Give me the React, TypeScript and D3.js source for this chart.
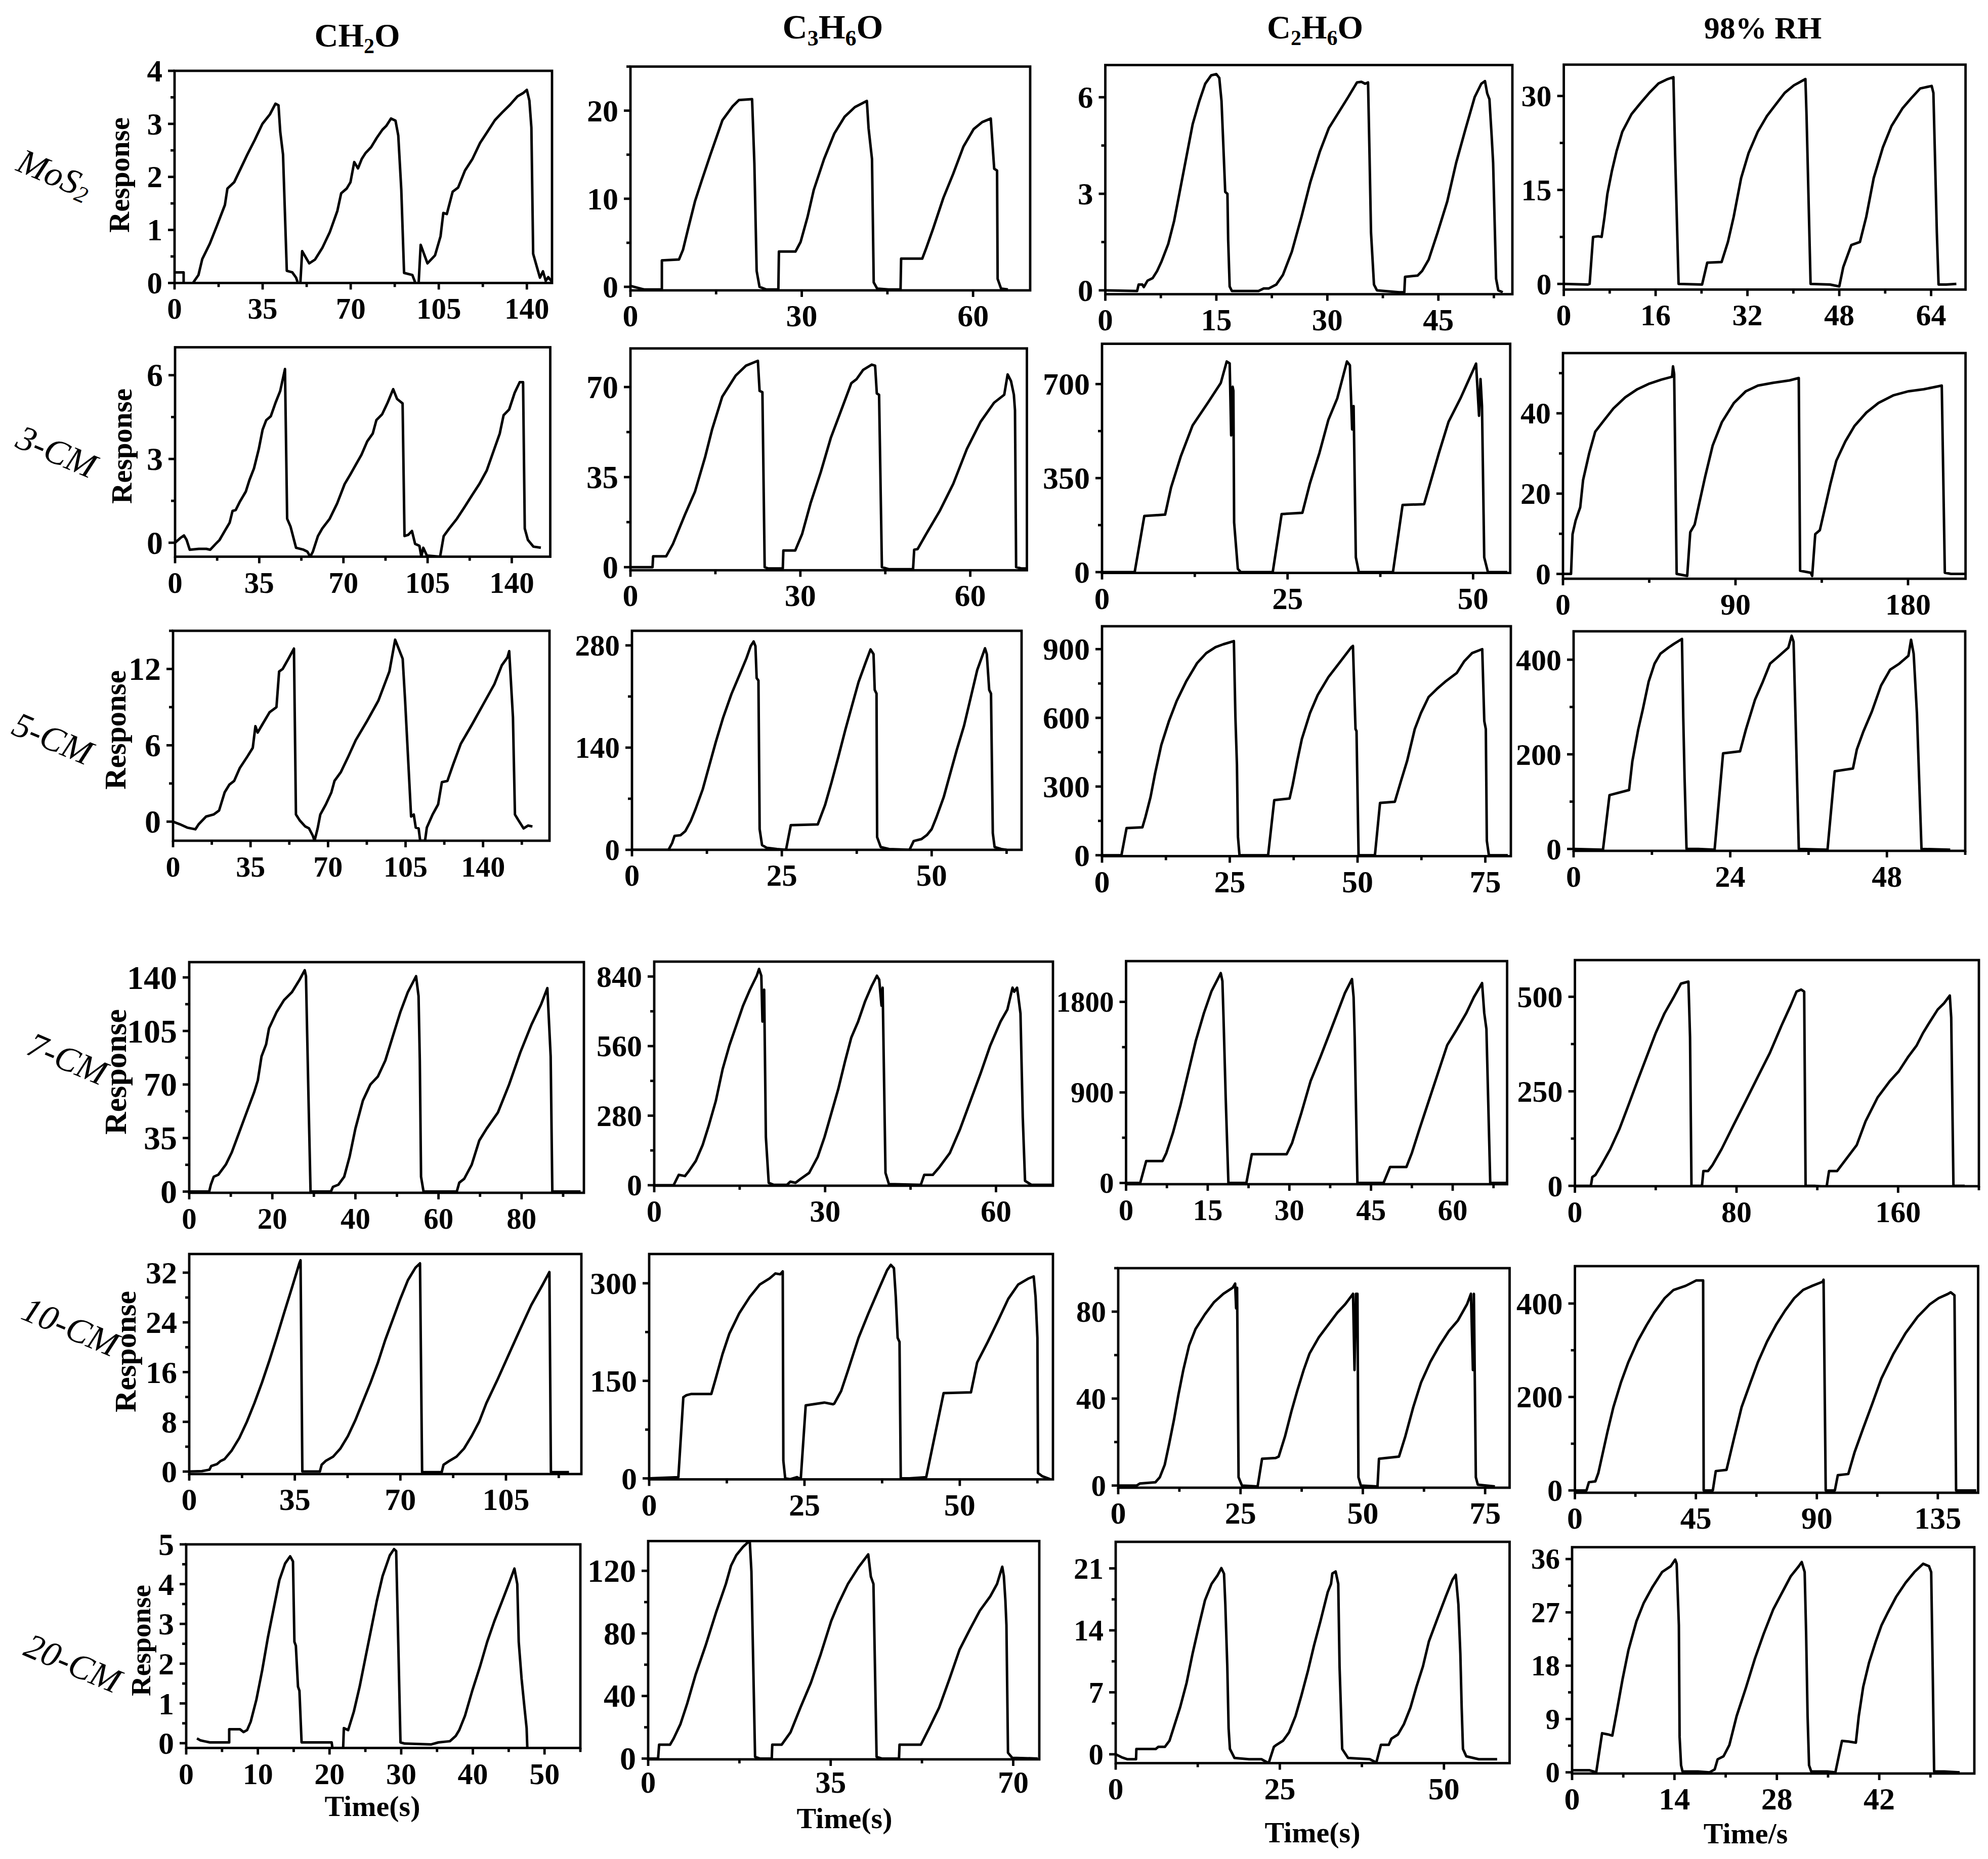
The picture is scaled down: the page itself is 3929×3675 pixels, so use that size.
import React, { useEffect } from 'react';
import * as d3 from 'd3';

type Pt = [number, number];
const FONT = "'Liberation Serif', 'Times New Roman', serif";

// ---------------- row / column names ----------------
const rowNames = ['MoS', '3-CM', '5-CM', '7-CM', '10-CM', '20-CM'];
const axisTitle = 'Response';
const timeLabels = ['Time(s)', 'Time(s)', 'Time(s)', 'Time/s'];

// ---------------- data: MoS2 ----------------
const mos2Fa: Pt[] = [[0,0.2],[3.6,0.2],[3.6,0],[7.3,0],[9.5,0.15],[11,0.45],[14,0.74],[17,1.1],[20,1.47],[21,1.78],[23.7,1.9],[25.9,2.12],[28.9,2.42],[31.9,2.7],[34.9,3.0],[37.9,3.18],[40.1,3.38],[41.3,3.35],[42,2.85],[43.1,2.42],[44.6,0.23],[46.8,0.2],[48.3,0.1],[49,0],[50,0],[50.7,0.6],[53.5,0.37],[55.8,0.44],[58.7,0.66],[61.7,0.96],[64.7,1.36],[66.2,1.69],[68.4,1.78],[69.9,1.9],[71.4,2.28],[72.9,2.16],[74.4,2.34],[75.9,2.45],[78.1,2.56],[80.4,2.74],[82.6,2.89],[84.1,2.96],[86,3.1],[87.8,3.06],[88.9,2.78],[90.1,1.76],[91.2,0.19],[94.5,0.15],[95.7,0],[97,0],[97.8,0.72],[100.5,0.37],[103.5,0.52],[105.7,0.88],[106.8,1.32],[108.2,1.3],[110.5,1.72],[112.7,1.8],[115.4,2.12],[118.4,2.34],[121.4,2.64],[124.3,2.85],[127.3,3.07],[130.3,3.22],[133.3,3.36],[136.3,3.52],[138.5,3.58],[140,3.64],[141,3.44],[141.8,2.93],[142.5,0.55],[144,0.3],[145.2,0.1],[146.4,0.22],[147.5,0.04],[148.5,0.11],[150,0.02]];
const mos2Ac: Pt[] = [[0,0.1],[2.4,-0.3],[5.5,-0.3],[5.5,3.0],[8.5,3.1],[9.2,4.2],[10.1,6.6],[11.3,9.7],[12.5,12.1],[14,15],[16.1,18.9],[17.9,20.5],[19,21.2],[21.3,21.3],[21.7,14],[22.1,1.8],[22.6,0],[23.8,-0.3],[25.9,-0.3],[26,4.0],[28.9,4.0],[29.8,5.1],[31,7.9],[32.1,11],[33.9,14.5],[35.7,17.4],[37.5,19.3],[39.3,20.4],[41.4,21.1],[41.7,18],[42.3,14.5],[42.6,0.5],[43.2,-0.2],[45.2,-0.3],[47.3,-0.3],[47.4,3.2],[51.1,3.2],[51.8,4.4],[53,6.6],[54.8,10.1],[56.5,12.8],[58.3,15.9],[60.1,17.9],[61.6,18.7],[63.1,19.1],[63.7,13.4],[64.2,13.2],[64.3,0.9],[64.9,-0.2],[66.1,-0.3]];
const mos2Et: Pt[] = [[0,0],[4.3,-0.02],[4.5,0.18],[5.0,0.18],[5.2,0.1],[5.7,0.3],[6.4,0.38],[7.0,0.6],[7.6,0.9],[8.5,1.44],[9.3,2.16],[10.1,3.12],[11.0,4.2],[11.8,5.16],[12.7,5.88],[13.5,6.42],[14.3,6.68],[15.0,6.72],[15.4,6.6],[15.7,5.88],[16.0,4.2],[16.2,3.06],[16.5,3.0],[16.6,1.56],[16.8,0.12],[17.1,-0.02],[20.7,-0.02],[21.4,0.06],[22.1,0.06],[23.1,0.18],[24.0,0.48],[25.2,1.2],[26.5,2.28],[27.7,3.36],[29.0,4.32],[30.2,5.04],[31.5,5.52],[32.8,6.0],[34.0,6.46],[34.6,6.48],[35.1,6.42],[35.5,6.46],[35.7,4.2],[35.9,1.8],[36.3,0.18],[36.7,0],[39.7,-0.06],[40.4,-0.06],[40.5,0.42],[42.2,0.46],[42.8,0.6],[43.7,0.96],[44.9,1.8],[46.2,2.76],[47.4,3.96],[48.7,5.04],[49.9,6.0],[50.8,6.42],[51.3,6.5],[51.6,6.12],[51.9,5.94],[52.2,4.8],[52.4,3.96],[52.8,0.36],[53.1,0],[53.7,-0.06]];
const mos2Rh: Pt[] = [[0,0],[4.2,-0.1],[4.5,0],[5.1,7.5],[6.0,7.6],[6.6,7.5],[7.1,10.7],[7.6,14.4],[8.4,18.1],[9.2,21.2],[10.2,24.3],[11.8,27.1],[13.4,28.9],[14.9,30.5],[16.5,32],[18.1,32.7],[19.1,33],[19.4,20.6],[20.0,0],[24.1,-0.1],[25.0,3.4],[27.5,3.5],[28.6,6.7],[29.6,10.7],[30.9,16.9],[32.2,20.9],[33.8,24.3],[35.4,26.8],[36.9,28.6],[38.5,30.5],[40.1,31.7],[42.1,32.7],[42.3,26.8],[43.0,0],[46.4,-0.1],[48.0,-0.4],[48.7,2.7],[50.1,6.2],[51.6,6.7],[52.7,10.7],[54.0,16.9],[55.6,21.8],[57.1,25.2],[59.0,28],[60.5,29.6],[62.1,31.2],[64.1,31.6],[64.4,30.5],[65.0,8.2],[65.3,-0.1],[66.6,-0.1],[68.4,0]];

// ---------------- data: 3-CM ----------------
const cm3Fa: Pt[] = [[0,0],[2.2,0.17],[3.7,0.26],[4.8,0.1],[6.1,-0.25],[9.9,-0.22],[13,-0.22],[14.6,-0.25],[16.9,-0.04],[18.5,0.1],[20.8,0.44],[22.7,0.72],[23.9,1.14],[25.2,1.17],[27,1.48],[29.4,1.83],[30.9,2.24],[32.8,2.66],[34.8,3.35],[36.4,4.05],[37.9,4.39],[39.8,4.53],[41.8,5.02],[43.7,5.43],[45.7,6.22],[46.6,0.86],[48,0.58],[50.3,-0.18],[53.4,-0.25],[55,-0.32],[56.2,-0.5],[57.3,-0.32],[59.4,0.24],[61.2,0.51],[64.3,0.86],[67.4,1.41],[70.5,2.1],[72.9,2.45],[75.2,2.8],[77.5,3.15],[79.9,3.63],[82.2,3.91],[83.7,4.39],[86.1,4.6],[88.4,5.02],[90.7,5.5],[92.3,5.15],[94.6,4.99],[95.4,0.24],[96.9,0.28],[98.5,0.42],[99.8,-0.04],[101.6,-0.11],[102.4,-0.5],[103.2,-0.18],[104.7,-0.46],[110.2,-0.5],[111.7,0.24],[114,0.51],[117.2,0.86],[120.3,1.27],[123.4,1.69],[126.5,2.1],[129.6,2.59],[132.7,3.35],[135,3.91],[136.6,4.57],[138.9,4.77],[141.2,5.37],[143.3,5.75],[144.7,5.75],[145.4,0.51],[146.7,0.1],[149,-0.14],[152.1,-0.18]];
const cm3Ac: Pt[] = [[0,0],[3.9,0],[4.0,4.2],[6.3,4.2],[7.5,9],[9.6,20.3],[11.4,29.4],[13.2,42.9],[14.4,53.4],[16.2,66.2],[18.6,74.5],[20.4,78.3],[22.5,80.2],[22.8,68.5],[23.3,68],[23.7,0],[24.3,-0.5],[26.9,-0.5],[27,6.5],[29.1,6.5],[30.3,12.8],[31.8,24.8],[33.6,36.9],[35.4,50.4],[37.2,60.9],[39,71.5],[39.9,73],[41.1,76.7],[42.6,78.7],[43.2,78.3],[43.5,67.5],[43.9,67],[44.4,0],[45.6,-0.8],[49.9,-0.8],[50.1,6.8],[50.7,7],[52.2,12.8],[54.6,21.8],[57,32.4],[59.4,45.9],[61.8,56.4],[64.2,63.9],[66,67],[66.6,74.9],[67.2,72.3],[67.7,67],[67.9,60.9],[68.1,0],[69,-0.5],[69.9,-0.5]];
const cm3Et: Pt[] = [[0,0],[4.4,0],[5.7,209],[8.5,214],[9.3,315],[10.6,430],[12.2,546],[14.3,632],[16.0,704],[16.8,784],[17.2,777],[17.4,509],[17.6,690],[17.7,675],[17.8,185],[18.3,12],[18.7,0],[23.0,0],[24.2,216],[27.0,221],[28.0,329],[29.3,444],[30.5,567],[31.7,647],[33.0,784],[33.4,770],[33.7,531],[33.9,618],[34.2,55],[34.6,0],[39.2,0],[40.5,250],[43.4,253],[44.2,329],[45.4,444],[46.7,560],[48.3,647],[50.4,776],[50.8,582],[51.0,719],[51.2,618],[51.5,55],[52.0,0],[54.6,0]];
const cm3Rh: Pt[] = [[0,0],[4.2,0],[5.0,9.9],[6.6,13.3],[9.0,16.6],[10.5,23.4],[13.7,30.1],[16.8,35.4],[21.5,38.3],[26.3,41.2],[32.5,44],[38.8,46],[45.1,47.4],[51.4,48.4],[56.9,49.1],[57.4,51.7],[58.0,49.8],[59.3,0],[64.8,-0.5],[66.4,10.4],[68.7,12.3],[71.1,17.6],[74.2,24.3],[78.1,32],[82.9,37.8],[89.2,42.6],[95.4,45.5],[101.7,46.9],[109.6,47.6],[118.2,48.2],[123.0,48.8],[123.7,0.8],[129.2,0.3],[130.0,-0.5],[131.6,9.9],[134.0,10.9],[136.3,15.7],[139.5,22.4],[142.6,28.2],[147.3,33],[152.0,36.8],[158.3,40.2],[164.6,42.6],[172.5,44.5],[180.3,45.5],[188.2,46],[197.6,46.9],[199.2,0.3],[202.4,0],[210,0]];

// ---------------- data: 5-CM ----------------
const cm5Fa: Pt[] = [[0,0],[3.0,-0.2],[6.4,-0.47],[10.1,-0.6],[11.5,-0.22],[14.9,0.4],[18.3,0.56],[20.8,0.88],[23.3,2.3],[25.4,2.9],[27.6,3.2],[30.1,4.2],[33.5,5.1],[36.0,5.8],[37.2,7.5],[38.2,7.0],[40.2,7.6],[43.6,8.6],[46.7,9.0],[47.9,11.8],[49.5,12],[52.1,12.8],[54.6,13.6],[55.5,0.56],[57.2,0.1],[59.7,-0.38],[61.4,-0.53],[63.1,-1.1],[63.9,-1.5],[65.3,-0.53],[66.5,0.56],[69.0,1.35],[71.5,2.3],[72.9,3.2],[75.8,3.9],[79.1,5.1],[82.5,6.4],[87.6,7.9],[92.7,9.5],[97.7,11.8],[100.3,14.3],[103.7,12.8],[104.8,9.5],[107.5,0.4],[108.7,0.56],[109.6,-0.47],[110.9,-0.53],[111.6,-1.5],[113.8,-1.5],[114.6,-0.47],[117.2,0.56],[119.7,1.35],[121.4,3.1],[123.9,3.2],[126.5,4.5],[129.9,6.1],[134.9,7.6],[140.0,9.2],[145.1,10.8],[148.5,12.3],[151.0,12.9],[151.8,13.4],[153.5,8.2],[154.4,0.56],[156.0,0.1],[158.3,-0.53],[160.3,-0.31],[162.3,-0.38]];
const cm5Ac: Pt[] = [[0,0],[6.1,0],[6.7,9.3],[7.1,19],[8.1,20],[8.9,25.6],[9.8,39.2],[10.6,55.6],[11.8,82.8],[12.9,115.5],[14.0,148.1],[15.2,180.8],[16.6,213.5],[18.0,240.8],[19.1,262.5],[19.8,278.9],[20.3,285.4],[20.6,278.9],[20.8,235.3],[21.1,232],[21.3,28.3],[21.7,6.5],[22.5,2.7],[24.2,1.1],[25.7,0],[26.5,33.8],[31.0,34.9],[32.2,61],[33.3,92.6],[34.4,126.4],[35.6,164.5],[36.7,197.2],[37.8,229.8],[39.0,257],[39.8,274.5],[40.3,268],[40.5,219],[40.8,214],[40.9,17.4],[41.5,3.8],[42.9,1.1],[46.3,0],[47.0,12],[48.3,14.7],[49.2,20.2],[50.0,28.3],[50.8,44.7],[52.0,71.9],[53.1,104.6],[54.2,137.2],[55.4,169.9],[56.5,208],[57.6,246.2],[58.9,276],[59.2,268],[59.6,219],[59.9,214],[60.2,22.9],[60.5,3.8],[61.6,1.1],[62.5,0]];
const cm5Et: Pt[] = [[0,0],[3.8,0],[4.8,118.6],[7.9,122],[8.5,167.5],[9.5,254.7],[10.4,359.3],[11.6,481.4],[13.1,586.1],[14.6,673.3],[16.5,760.5],[18.6,839],[20.4,882.6],[22.2,908.8],[23.7,921],[25.8,935],[26.1,603.5],[26.4,394.2],[26.6,80.2],[26.9,0],[32.5,0],[33.7,240.7],[36.7,247.7],[37.3,307],[38.2,411.7],[39.1,507.6],[40.7,621],[42.2,699.5],[44.3,778],[46.7,847.8],[48.8,908.8],[49.1,914],[49.6,551.2],[49.8,542],[50.2,0],[53.4,0],[54.4,228.5],[57.3,233.7],[58.5,324.4],[59.7,411.7],[61.2,551.2],[62.4,621],[63.9,690.8],[65.5,725.6],[67.3,760.5],[69.4,795.4],[70.9,847.8],[72.4,882.6],[74.4,900],[74.8,586],[75.1,551.2],[75.3,62.8],[75.7,0],[79.4,0]];
const cm5Rh: Pt[] = [[0,0],[4.5,-1.7],[5.5,113.7],[8.5,124.6],[9.0,185.3],[9.9,252.6],[10.6,294.7],[11.5,353.7],[12.4,391.6],[13.3,412.6],[14.5,425.3],[15.4,433.7],[16.6,443.8],[16.8,277.9],[17.0,151.6],[17.3,0],[19.1,0],[21.6,-1.7],[22.9,202.1],[25.5,206.3],[26.4,252.6],[27.8,315.8],[29.0,353.7],[30.1,391.6],[31.5,408.4],[32.9,425.3],[33.4,450.5],[33.7,437.9],[34.0,277.9],[34.5,0],[38.9,-1.7],[40.0,164.2],[42.8,170.1],[43.4,210.5],[44.4,248.4],[45.7,290.5],[47.1,345.3],[48.5,378.9],[49.9,391.6],[51.3,408.4],[51.7,442.1],[52.1,412.6],[52.6,286.3],[53.3,0],[57.7,-1.7]];

// ---------------- data: 7-CM ----------------
const cm7Fa: Pt[] = [[0,0],[4.8,0],[5.2,4.5],[5.9,9.7],[7.0,11],[7.7,13.6],[8.8,17.6],[10.2,25.4],[12.0,38.5],[13.8,51.7],[15.6,64.8],[16.5,72.6],[17.4,88.4],[18.5,96.2],[19.2,106.7],[21.0,117.2],[22.8,125.1],[24.7,130.3],[26.5,138.2],[27.8,144.7],[28.1,140.8],[28.7,62.1],[29.2,0],[34.1,0],[34.6,3.1],[35.9,4.5],[37.3,9.7],[38.6,22.8],[40.0,41.2],[41.8,59.5],[43.6,70],[45.4,75.2],[47.2,85.7],[49.0,101.5],[50.8,117.2],[52.6,130.3],[54.6,140.8],[55.2,127.7],[55.5,85.7],[55.8,9.7],[56.4,0],[64.4,0],[65.0,5.8],[66.2,8.4],[68.0,17.6],[69.8,33.3],[71.6,41.2],[74.3,51.7],[77.0,70],[79.7,91],[82.4,109.3],[84.7,122.4],[86.2,133],[87.0,88.4],[87.4,0],[89.7,0],[94.2,0]];
const cm7Ac: Pt[] = [[0,0],[3.4,0],[4.3,41.7],[5.4,36.9],[6.1,57.7],[7.3,97.8],[8.5,161.9],[9.6,242],[10.8,338.2],[12.0,466.5],[13.2,562.7],[14.4,642.8],[15.6,723],[16.8,787],[18.0,843.2],[18.4,870.5],[18.8,843],[19.0,658.9],[19.3,787],[19.6,194],[20.1,9.6],[21.0,1.6],[23.3,1.6],[23.9,14.4],[24.8,9.6],[25.7,25.6],[27.2,49.7],[28.7,113.8],[29.9,194],[31.1,290.2],[32.3,386.3],[33.5,498.6],[34.6,594.8],[35.8,658.9],[37.0,739],[38.2,803.1],[39.1,843.2],[39.5,827],[39.9,723],[40.1,795],[40.6,49.7],[41.2,4.8],[46.8,1.6],[47.4,41.7],[48.9,41.7],[50.1,73.7],[51.9,129.9],[53.7,226.1],[55.5,338.2],[57.3,450.5],[59.0,562.7],[60.8,658.9],[62.0,707],[62.9,795.1],[63.2,779],[63.7,795],[63.9,763.1],[64.3,691],[64.7,274.1],[65.1,17.6],[66.2,1.6],[69.8,1.6]];
const cm7Et: Pt[] = [[0,0],[2.6,0],[3.7,218.5],[6.7,218.5],[7.4,298],[8.6,496.6],[10.0,774.7],[11.4,1092.6],[12.8,1410.4],[14.3,1688.5],[15.7,1907],[17.4,2085.8],[17.7,2006],[17.9,1648.8],[18.3,854.2],[18.8,0],[22.1,0],[23.1,286],[29.5,286],[30.5,397.3],[32.2,695.3],[33.9,1013.1],[35.7,1251.5],[37.4,1489.9],[38.8,1688.5],[40.2,1887.2],[41.5,2026.2],[41.8,1847],[42.0,1450.1],[42.5,0],[47.3,0],[48.5,158.9],[51.5,158.9],[52.5,298],[53.9,536.4],[55.6,814.5],[57.3,1092.6],[59.0,1370.7],[60.8,1529.6],[62.5,1688.5],[63.9,1847.4],[65.4,1986.5],[65.8,1688.5],[66.2,1529.6],[66.9,0],[69.9,0]];
const cm7Rh: Pt[] = [[0,0],[7.9,0],[8.6,23.2],[10.1,28.5],[13.1,54.9],[17.5,97],[22.0,149.8],[26.5,213.1],[30.9,276.4],[35.4,339.7],[39.9,403],[44.3,455.7],[48.8,497.9],[52.5,534.8],[56.2,540.1],[57.0,392.4],[57.7,0],[62.9,0],[63.6,39],[65.9,39],[68.1,54.9],[72.6,97],[78.5,160.3],[84.5,223.6],[90.4,286.9],[96.4,350.2],[102.3,424],[106.8,476.8],[109.7,513.7],[112.0,519],[113.5,513.7],[114.2,0],[118.7,0],[124.6,-3],[125.8,39],[129.8,39],[135.0,75.9],[139.5,107.6],[143.9,170.9],[149.9,234.2],[155.8,276.4],[160.3,302.7],[164.8,339.7],[169.2,371.3],[172.2,403],[175.2,429.3],[179.6,466.2],[182.6,482.1],[185.6,503.2],[186.3,445.1],[187.4,0],[193.0,0]];

// ---------------- data: 10-CM ----------------
const cm10Fa: Pt[] = [[0,0],[4.2,0.07],[6.7,0.3],[7.3,0.9],[9.2,1.2],[10.4,1.7],[11.7,2.0],[14.1,3.4],[16.6,5.4],[19.1,8],[21.6,11],[24.1,14.3],[26.6,17.9],[29.0,21.6],[31.5,25.6],[34.0,29.5],[36.5,33.5],[36.9,34],[37.5,0],[43.3,0],[43.9,1.1],[45.2,1.7],[47.7,2.4],[50.1,3.7],[52.6,5.7],[55.1,8.3],[57.6,11.3],[60.1,14.3],[62.6,17.6],[65.0,21.2],[67.5,24.5],[70.0,27.8],[72.5,30.8],[75.0,32.8],[76.5,33.5],[77.2,-0.1],[83.7,-0.1],[84.3,1.1],[86.2,1.7],[88.6,2.4],[91.1,3.7],[93.6,5.7],[96.1,8],[98.5,11],[102.3,14.9],[106.0,18.9],[109.7,22.9],[113.4,26.8],[117.2,30.1],[119.4,32.1],[119.9,-0.1],[125.9,-0.1]];
const cm10Ac: Pt[] = [[0,0],[4.7,1.9],[5.5,124.8],[6.0,127.9],[6.8,129.8],[10.0,129.8],[10.7,153.1],[11.8,190.9],[12.9,222.4],[14.5,253.9],[16.2,279.1],[17.8,298],[19.4,307.5],[20.3,315],[21.1,313.8],[21.5,318.2],[21.6,27.1],[21.9,0],[22.7,-1.3],[23.8,1.9],[24.4,-1.3],[25.2,112.2],[28.2,116.6],[29.6,114],[29.8,115],[30.9,134.2],[32.0,165.7],[33.7,216.1],[35.3,253.9],[37.0,291.7],[38.3,320.1],[38.9,328.3],[39.4,323.2],[39.7,279.1],[40.0,216.1],[40.3,209.8],[40.5,0],[41.9,0],[44.6,1.9],[47.4,131.1],[51.8,132.3],[52.8,178.3],[54.5,209.8],[56.1,241.3],[57.8,276],[59.4,298],[61.1,307.5],[61.9,310.6],[62.2,279.1],[62.5,216.1],[62.6,8.2],[63.3,3.2],[64.6,-1.3]];
const cm10Et: Pt[] = [[0,0],[3.8,0],[4.4,0.9],[7.6,1.5],[8.5,3.8],[9.5,9.5],[10.4,19],[11.4,30.3],[12.3,41.7],[13.3,53.1],[14.5,64.5],[15.8,72],[17.7,78.7],[19.6,84.4],[21.5,88.2],[23.4,91],[23.9,92.9],[24.1,81.5],[24.3,91],[24.6,3.8],[25.3,0],[28.5,-0.4],[29.4,12.3],[32.2,12.7],[32.8,13.3],[34.1,22.7],[35.4,34.1],[36.6,43.6],[37.9,53.1],[39.1,60.7],[41.0,68.2],[42.9,73.9],[44.8,79.6],[46.4,83.4],[48.0,88.2],[48.3,53.1],[48.6,88.2],[48.9,88.2],[49.1,3.8],[49.6,0],[53.0,-0.4],[53.3,12.3],[57.4,13.3],[58.7,22.7],[60.3,36],[61.9,47.4],[63.8,56.9],[65.7,64.5],[67.6,71.1],[69.4,75.8],[71.3,83.4],[72.1,88.2],[72.5,53.1],[72.7,88.2],[73.1,3.8],[73.5,0.4],[77.0,-0.4]];
const cm10Rh: Pt[] = [[0,0],[4.3,0],[5.2,17.6],[7.6,19.4],[8.7,37],[10.4,81.1],[12.1,125.1],[14.3,178],[17.1,230.8],[19.9,274.9],[23.3,319],[26.7,354.2],[29.5,380.6],[33.4,411.5],[36.7,429.1],[41.2,437.9],[45.1,449.3],[47.7,449.3],[47.9,0],[51.3,0],[52.4,41.4],[56.4,44.1],[59.2,111.9],[62.0,178],[65.3,230.8],[68.1,274.9],[71.5,319],[74.8,354.2],[78.2,385],[81.6,411.5],[84.9,429.1],[88.3,437.9],[92.2,446.7],[92.5,451],[93.3,0],[96.7,0],[97.8,32.6],[101.7,35.2],[104.0,81.1],[107.3,133.9],[110.7,186.8],[114.0,239.6],[118.5,292.5],[123.0,336.6],[127.5,371.8],[132.0,398.2],[135.3,411.5],[138.7,420.3],[139.8,424],[141.2,417.6],[141.8,0],[149.3,0]];

// ---------------- data: 20-CM ----------------
const cm20Fa: Pt[] = [[1.5,0.12],[2.0,0.07],[2.5,0.05],[3.3,0.02],[6.0,0.02],[6.0,0.35],[7.5,0.35],[8.0,0.28],[8.5,0.33],[9.0,0.54],[9.8,1.1],[10.6,1.83],[11.4,2.66],[12.2,3.38],[13.0,4.1],[13.8,4.52],[14.5,4.7],[14.9,4.57],[15.1,2.55],[15.3,2.45],[15.6,1.42],[15.8,1.32],[16.1,0.02],[20.3,0.02],[20.4,-0.12],[21.9,-0.12],[22.0,0.38],[22.6,0.33],[23.4,0.8],[24.2,1.42],[25.0,2.14],[25.8,2.86],[26.6,3.58],[27.4,4.2],[28.4,4.72],[29.0,4.88],[29.3,4.83],[29.6,2.45],[29.9,0.02],[30.5,-0.01],[34.2,-0.03],[35.2,0.02],[36.8,0.05],[37.6,0.18],[38.1,0.33],[38.9,0.69],[39.9,1.31],[41.0,1.93],[42.0,2.55],[43.0,3.07],[44.1,3.58],[45.1,4.05],[45.8,4.39],[46.2,4.0],[46.4,2.55],[46.8,1.62],[47.2,0.9],[47.5,0.38],[47.6,-0.12]];
const cm20Ac: Pt[] = [[0,0],[1.9,0],[2.1,8.9],[4.2,8.9],[4.9,12.9],[6.2,22.1],[7.5,35.3],[9.1,53.7],[11.0,72.1],[13.0,93.2],[14.9,111.6],[15.9,123.4],[16.9,130],[18.2,135.3],[19.2,138.4],[19.5,137.9],[19.8,119.5],[20.0,85],[20.5,1.1],[21.4,0],[23.7,0],[23.8,8.9],[25.6,8.9],[27.3,16.8],[29.2,32.6],[31.2,48.4],[33.1,66.8],[35.1,87.9],[36.4,98.4],[38.3,111.6],[40.3,122.1],[42.2,130.5],[42.7,116.3],[43.2,111.6],[43.8,1.1],[44.8,0],[48.1,0],[48.2,8.9],[52.3,8.9],[53.9,19.5],[55.8,32.6],[57.8,51.1],[59.7,69.5],[61.7,82.6],[63.6,94.5],[65.6,103.7],[66.9,111.6],[67.9,122.6],[68.2,116.8],[68.5,101],[68.7,85.3],[69.0,3.7],[69.8,0.5],[74.7,0]];
const cm20Et: Pt[] = [[0,0],[0.9,-0.33],[1.8,-0.56],[3.1,-0.56],[3.15,0.6],[6.1,0.6],[6.5,0.84],[7.5,0.84],[8.2,1.54],[8.9,3.17],[9.8,5.27],[10.8,8.07],[11.7,11.33],[12.7,14.59],[13.6,17.39],[14.6,19.25],[15.5,20.2],[16.1,21.03],[16.5,20.4],[16.7,16.92],[17.0,9.93],[17.2,2.94],[17.4,0.6],[18.1,-0.42],[20.3,-0.56],[22.2,-0.56],[23.3,-1.0],[24.1,0.84],[24.5,1.07],[25.5,1.54],[26.4,2.47],[27.4,4.34],[28.3,6.67],[29.3,9.47],[30.2,12.26],[31.2,15.06],[32.3,18.32],[32.8,19.25],[33.0,20.42],[33.5,20.65],[33.9,19.25],[34.1,9.93],[34.5,0.6],[35.4,-0.42],[38.7,-0.56],[39.7,-0.93],[40.4,1.07],[41.6,1.07],[42.0,1.77],[43.0,2.24],[43.9,3.4],[44.9,5.27],[45.8,7.6],[46.8,9.93],[47.7,12.73],[49.1,15.52],[50.3,17.86],[51.3,19.72],[51.8,20.28],[52.2,16.92],[52.5,11.33],[52.7,5.27],[52.9,0.6],[53.4,-0.23],[55.3,-0.56],[58.1,-0.56]];
const cm20Rh: Pt[] = [[0,0.35],[2.4,0.35],[3.3,0],[4.1,6.6],[4.9,6.4],[5.5,6.2],[6.1,10.2],[6.9,15.7],[7.7,20.6],[8.8,25.5],[9.8,28.6],[11.0,31.3],[12.3,33.8],[13.5,34.8],[14.1,35.9],[14.3,35.2],[14.6,24.8],[14.7,6],[14.9,1.2],[15.1,0.14],[17.2,0.14],[18.8,0],[19.5,0.49],[19.9,2.2],[20.7,2.7],[21.5,4.6],[22.5,9.5],[23.8,14.4],[25.0,19.2],[26.2,23.4],[27.5,27.5],[28.7,30.3],[29.9,33.1],[31.0,34.8],[31.4,35.5],[31.8,33.8],[32.0,23.4],[32.2,9.5],[32.4,1.2],[32.7,0.14],[34.9,0.14],[36.0,0],[36.9,5.3],[37.8,5.2],[38.8,5],[39.2,9.5],[39.8,14.4],[40.6,18.5],[41.5,22],[42.3,24.8],[43.1,26.8],[44.3,29.6],[45.6,32],[46.8,33.8],[48.0,35.2],[48.8,34.8],[49.1,33.8],[49.3,17.8],[49.5,0.14],[50.9,0.14],[53.0,0]];

// ---------------- tick values ----------------
const tk35 = [0, 35, 70, 105, 140];
const tk30 = [0, 30, 60];
const tk25 = [0, 25, 50];
const tk25b = [0, 25, 50, 75];
const mos2FaY = [0, 1, 2, 3, 4];
const mos2AcY = [0, 10, 20];
const mos2EtX = [0, 15, 30, 45];
const mos2EtY = [0, 3, 6];
const mos2RhX = [0, 16, 32, 48, 64];
const mos2RhY = [0, 15, 30];
const cm3FaY = [0, 3, 6];
const cm3AcY = [0, 35, 70];
const cm3EtY = [0, 350, 700];
const cm3RhX = [0, 90, 180];
const cm3RhY = [0, 20, 40];
const cm5FaY = [0, 6, 12];
const cm5AcY = [0, 140, 280];
const cm5EtY = [0, 300, 600, 900];
const cm5RhX = [0, 24, 48];
const cm5RhY = [0, 200, 400];
const cm7FaX = [0, 20, 40, 60, 80];
const cm7FaY = [0, 35, 70, 105, 140];
const cm7AcY = [0, 280, 560, 840];
const cm7EtX = [0, 15, 30, 45, 60];
const cm7EtY = [0, 900, 1800];
const cm7RhX = [0, 80, 160];
const cm7RhY = [0, 250, 500];
const cm10FaX = [0, 35, 70, 105];
const cm10FaY = [0, 8, 16, 24, 32];
const cm10AcY = [0, 150, 300];
const cm10EtY = [0, 40, 80];
const cm10RhX = [0, 45, 90, 135];
const cm10RhY = [0, 200, 400];
const cm20FaX = [0, 10, 20, 30, 40, 50];
const cm20FaY = [0, 1, 2, 3, 4, 5];
const cm20AcX = [0, 35, 70];
const cm20AcY = [0, 40, 80, 120];
const cm20EtY = [0, 7, 14, 21];
const cm20RhX = [0, 14, 28, 42];
const cm20RhY = [0, 9, 18, 27, 36];

interface Panel {
  data: Pt[]; xt: number[]; yt: number[];
  xd: [number, number]; yd: [number, number];
  box: [number, number, number, number]; fx: number; fy: number; xo?: number;
}

// layout (box = left, top, right, bottom in px)
const panels: Panel[] = [
  { data: mos2Fa, xt: tk35, yt: mos2FaY, xd: [0, 150], yd: [0, 4], box: [345, 140, 1091, 559.4], fx: 59, fy: 61 },
  { data: mos2Ac, xt: tk30, yt: mos2AcY, xd: [0, 70], yd: [-0.4, 25], box: [1246, 131.6, 2036, 574], fx: 62, fy: 62 },
  { data: mos2Et, xt: mos2EtX, yt: mos2EtY, xd: [0, 55], yd: [-0.12, 7], box: [2184.5, 128.6, 2989, 581.6], fx: 61, fy: 61 },
  { data: mos2Rh, xt: mos2RhX, yt: mos2RhY, xd: [0, 70], yd: [-0.9, 35], box: [3090.6, 127.8, 3884.6, 572.4], fx: 60, fy: 60 },

  { data: cm3Fa, xt: tk35, yt: cm3FaY, xd: [0, 156], yd: [-0.5, 7], box: [346, 686.5, 1087.5, 1100.5], fx: 59, fy: 64 },
  { data: cm3Ac, xt: tk30, yt: cm3AcY, xd: [0, 70], yd: [-1.2, 85], box: [1246, 688.8, 2029.5, 1127.3], fx: 62, fy: 63 },
  { data: cm3Et, xt: tk25, yt: cm3EtY, xd: [0, 55], yd: [-3, 850], box: [2178, 679.6, 2984.7, 1132.6], fx: 61, fy: 62 },
  { data: cm3Rh, xt: cm3RhX, yt: cm3RhY, xd: [0, 210], yd: [-1.2, 55], box: [3089, 698, 3884.6, 1144.1], fx: 60, fy: 60 },

  { data: cm5Fa, xt: tk35, yt: cm5FaY, xd: [0, 170], yd: [-1.5, 15], box: [342, 1247, 1086, 1662], fx: 58, fy: 64 },
  { data: cm5Ac, xt: tk25, yt: cm5AcY, xd: [0, 65], yd: [0, 300], box: [1249, 1247, 2019, 1680], fx: 61, fy: 59 },
  { data: cm5Et, xt: tk25b, yt: cm5EtY, xd: [0, 80], yd: [-4, 1000], box: [2178, 1238, 2986, 1692.5], fx: 62, fy: 62 },
  { data: cm5Rh, xt: cm5RhX, yt: cm5RhY, xd: [0, 60], yd: [-4, 460], box: [3110, 1248, 3884, 1682], fx: 60, fy: 60 },

  { data: cm7Fa, xt: cm7FaX, yt: cm7FaY, xd: [0, 95], yd: [-0.8, 150], box: [374, 1902, 1154, 2358], fx: 59, fy: 66 },
  { data: cm7Ac, xt: tk30, yt: cm7AcY, xd: [0, 70], yd: [-2, 900], box: [1293, 1901, 2081, 2344], fx: 61, fy: 60 },
  { data: cm7Et, xt: cm7EtX, yt: cm7EtY, xd: [0, 70], yd: [-12, 2205], box: [2225.5, 1900, 2978.6, 2341], fx: 59, fy: 57 },
  { data: cm7Rh, xt: cm7RhX, yt: cm7RhY, xd: [0, 200], yd: [-1, 597], box: [3112.6, 1898, 3911, 2345], fx: 60, fy: 60 },

  { data: cm10Fa, xt: cm10FaX, yt: cm10FaY, xd: [0, 130], yd: [-0.4, 35], box: [374, 2479, 1149, 2914], fx: 62, fy: 62 },
  { data: cm10Ac, xt: tk25, yt: cm10AcY, xd: [0, 65], yd: [-1.5, 345], box: [1283, 2479, 2081, 2924.5], fx: 62, fy: 62 },
  { data: cm10Et, xt: tk25b, yt: cm10EtY, xd: [0, 80], yd: [-1, 100], box: [2210, 2507, 2983.5, 2941], fx: 62, fy: 59 },
  { data: cm10Rh, xt: cm10RhX, yt: cm10RhY, xd: [0, 150], yd: [-5, 480], box: [3112.6, 2503, 3909.5, 2951], fx: 62, fy: 61 },

  { data: cm20Fa, xt: cm20FaX, yt: cm20FaY, xd: [0, 55], yd: [-0.12, 5], box: [368, 3053, 1147, 3455.5], fx: 60, fy: 62 },
  { data: cm20Ac, xt: cm20AcX, yt: cm20AcY, xd: [0, 75], yd: [-0.5, 139], box: [1281, 3046.5, 2054, 3478], fx: 61, fy: 64, xo: 66 },
  { data: cm20Et, xt: tk25, yt: cm20EtY, xd: [0, 60], yd: [-1, 24], box: [2205, 3048, 2983.5, 3485.5], fx: 62, fy: 59 },
  { data: cm20Rh, xt: cm20RhX, yt: cm20RhY, xd: [0, 55], yd: [-0.2, 38], box: [3107, 3058.6, 3902, 3506], fx: 62, fy: 57 },
];

// label placement
const rowLabelPos: [number, number][] = [[108, 344], [112, 893], [104, 1460], [133, 2093], [139, 2623], [144, 3288]];
const responsePos: [number, number, number][] = [[255, 346, 57], [260, 882, 57], [248, 1443, 59], [249, 2119, 62], [268, 2672, 60], [297, 3243, 55]];
const timePos: [number, number][] = [[736, 3590], [1669, 3614], [2594, 3642], [3450, 3644]];

function minorTicks(t: number[], d: [number, number]): number[] {
  const step = t[1] - t[0];
  const out: number[] = [];
  for (let v = t[0] - step / 2; v <= d[1] + 1e-9; v += step) {
    if (v >= d[0] - 1e-9) out.push(v);
  }
  return out;
}

const SW = 4.8;
const MAJ = 13;
const MIN = 8;

function PanelView({ p, id }: { p: Panel; id: number }) {
  const [L, T, R, B] = p.box;
  const x = d3.scaleLinear().domain(p.xd).range([L, R]);
  const y = d3.scaleLinear().domain(p.yd).range([B, T]);
  const line = d3.line<Pt>().x(d => x(d[0])).y(d => y(d[1]));
  const path = line(p.data) || '';
  const xMin = minorTicks(p.xt, p.xd);
  const yMin = minorTicks(p.yt, p.yd);
  const xo = p.xo ?? 71;
  return (
    <g>
      <defs>
        <clipPath id={`clip${id}`}>
          <rect x={L} y={T} width={R - L} height={B - T} />
        </clipPath>
      </defs>
      <path d={path} fill="none" stroke="#000" strokeWidth={5} strokeLinejoin="round" clipPath={`url(#clip${id})`} />
      <rect x={L} y={T} width={R - L} height={B - T} fill="none" stroke="#000" strokeWidth={SW} />
      {p.xt.map(v => (
        <g key={`x${v}`}>
          <line x1={x(v)} x2={x(v)} y1={B} y2={B + MAJ} stroke="#000" strokeWidth={SW} />
          <text x={x(v)} y={B + xo} textAnchor="middle" fontSize={p.fx} fontWeight="bold">{v}</text>
        </g>
      ))}
      {xMin.map(v => (
        <line key={`xm${v}`} x1={x(v)} x2={x(v)} y1={B} y2={B + MIN} stroke="#000" strokeWidth={SW} />
      ))}
      {p.yt.map(v => (
        <g key={`y${v}`}>
          <line x1={L} x2={L - MAJ} y1={y(v)} y2={y(v)} stroke="#000" strokeWidth={SW} />
          <text x={L - 24} y={y(v) + 0.34 * p.fy} textAnchor="end" fontSize={p.fy} fontWeight="bold">{v}</text>
        </g>
      ))}
      {yMin.map(v => (
        <line key={`ym${v}`} x1={L} x2={L - MIN} y1={y(v)} y2={y(v)} stroke="#000" strokeWidth={SW} />
      ))}
    </g>
  );
}

export default function App() {
  useEffect(() => {
    document.body.style.margin = '0';
  }, []);
  return (
    <svg
      width={3929}
      height={3675}
      viewBox="0 0 3929 3675"
      style={{ position: 'absolute', left: 0, top: 0, display: 'block' }}
      fontFamily={FONT}
    >
      <rect x={0} y={0} width={3929} height={3675} fill="#fff" />

      {/* column titles */}
      <text x={706} y={92} textAnchor="middle" fontSize={65} fontWeight="bold">
        CH<tspan fontSize={42} dy={13}>2</tspan><tspan dy={-13}>O</tspan>
      </text>
      <text x={1646} y={76} textAnchor="middle" fontSize={68} fontWeight="bold">
        C<tspan fontSize={44} dy={14}>3</tspan><tspan dy={-14}>H</tspan><tspan fontSize={44} dy={14}>6</tspan><tspan dy={-14}>O</tspan>
      </text>
      <text x={2599} y={76} textAnchor="middle" fontSize={65} fontWeight="bold">
        C<tspan fontSize={42} dy={13}>2</tspan><tspan dy={-13}>H</tspan><tspan fontSize={42} dy={13}>6</tspan><tspan dy={-13}>O</tspan>
      </text>
      <text x={3484} y={76} textAnchor="middle" fontSize={62} fontWeight="bold">98% RH</text>

      {panels.map((p, i) => <PanelView key={i} p={p} id={i} />)}

      {/* row labels */}
      {rowLabelPos.map(([cx, cy], i) => (
        <text
          key={`rl${i}`}
          x={cx}
          y={cy}
          textAnchor="middle"
          dominantBaseline="central"
          fontSize={70}
          fontStyle="italic"
          transform={`rotate(23, ${cx}, ${cy})`}
        >
          {rowNames[i]}
          {i === 0 ? <tspan fontSize={46} dy={16}>2</tspan> : null}
        </text>
      ))}

      {/* Response labels */}
      {responsePos.map(([bx, cy, fs], i) => (
        <text
          key={`resp${i}`}
          x={bx}
          y={cy}
          textAnchor="middle"
          fontSize={fs}
          fontWeight="bold"
          transform={`rotate(-90, ${bx}, ${cy})`}
        >
          {axisTitle}
        </text>
      ))}

      {/* time labels */}
      {timePos.map(([cx, by], i) => (
        <text key={`t${i}`} x={cx} y={by} textAnchor="middle" fontSize={58} fontWeight="bold">{timeLabels[i]}</text>
      ))}
    </svg>
  );
}
